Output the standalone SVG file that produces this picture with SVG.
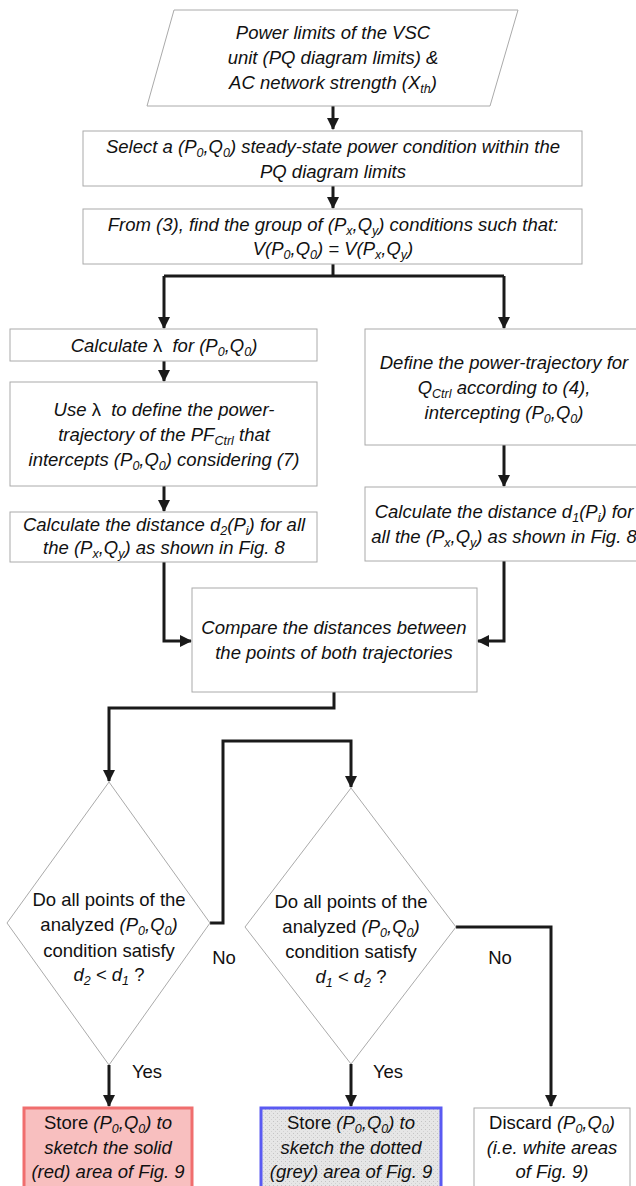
<svg xmlns="http://www.w3.org/2000/svg" width="636" height="1186" viewBox="0 0 636 1186">
<style>
text{font-family:"Liberation Sans",Arial,sans-serif;font-size:18.5px;fill:#111;text-anchor:middle}
.i{font-style:italic}
.n{font-style:normal}
.b{fill:#fff;stroke:#aaa;stroke-width:1}
.c{fill:none;stroke:#1a1a1a;stroke-width:3}
.s{font-size:12.5px}
</style>
<defs>
<marker id="ah" markerUnits="userSpaceOnUse" markerWidth="12" markerHeight="14" refX="11" refY="6" orient="auto">
<path d="M0,0 L12,6 L0,12 Z" fill="#1a1a1a"/>
</marker>
<pattern id="dots" width="4" height="4" patternUnits="userSpaceOnUse">
<rect width="4" height="4" fill="#e6e6e6"/>
<rect x="1" y="1" width="1" height="1" fill="#c4c4c4"/>
<rect x="3" y="3" width="1" height="1" fill="#d2d2d2"/>
</pattern>
</defs>

<g id="connectors">
<line class="c" x1="333" y1="106" x2="333" y2="129" marker-end="url(#ah)"/>
<line class="c" x1="333" y1="186" x2="333" y2="208" marker-end="url(#ah)"/>
<polyline class="c" points="333,264 333,276"/>
<polyline class="c" points="164,276 504,276"/>
<polyline class="c" points="164,276 164,328" marker-end="url(#ah)"/>
<polyline class="c" points="504,276 504,328" marker-end="url(#ah)"/>
<line class="c" x1="164" y1="361" x2="164" y2="381" marker-end="url(#ah)"/>
<line class="c" x1="164" y1="486" x2="164" y2="511" marker-end="url(#ah)"/>
<line class="c" x1="504" y1="445" x2="504" y2="486" marker-end="url(#ah)"/>
<polyline class="c" points="164,562 164,641 191,641" marker-end="url(#ah)"/>
<polyline class="c" points="504,561 504,641 478,641" marker-end="url(#ah)"/>
<polyline class="c" points="334,692 334,708 109,708 109,781" marker-end="url(#ah)"/>
<polyline class="c" points="210,923 223,923 223,741 351,741 351,787" marker-end="url(#ah)"/>
<polyline class="c" points="456,927 551,927 551,1106" marker-end="url(#ah)"/>
<line class="c" x1="109" y1="1065" x2="109" y2="1106" marker-end="url(#ah)"/>
<line class="c" x1="351" y1="1064" x2="351" y2="1106" marker-end="url(#ah)"/>
</g>

<g id="n1">
<polygon class="b" points="174,10 518,10 490,106 147,106"/>
<text class="i" x="333" y="39">Power limits of the VSC</text>
<text class="i" x="333" y="64">unit (PQ diagram limits) &amp;</text>
<text class="i" x="333" y="89">AC network strength (X<tspan class="s" dy="4">th</tspan><tspan dy="-4">)</tspan></text>
</g>

<g id="n2">
<rect class="b" x="83" y="131" width="499" height="55"/>
<text class="i" x="333" y="153">Select a (P<tspan class="s" dy="4">0</tspan><tspan dy="-4">,Q</tspan><tspan class="s" dy="4">0</tspan><tspan dy="-4">) steady-state power condition within the</tspan></text>
<text class="i" x="333" y="178">PQ diagram limits</text>
</g>

<g id="n3">
<rect class="b" x="83" y="209" width="499" height="55"/>
<text class="i" x="333" y="231">From (3), find the group of (P<tspan class="s" dy="4">x</tspan><tspan dy="-4">,Q</tspan><tspan class="s" dy="4">y</tspan><tspan dy="-4">) conditions such that:</tspan></text>
<text class="i" x="333" y="255">V(P<tspan class="s" dy="4">0</tspan><tspan dy="-4">,Q</tspan><tspan class="s" dy="4">0</tspan><tspan dy="-4">) = V(P</tspan><tspan class="s" dy="4">x</tspan><tspan dy="-4">,Q</tspan><tspan class="s" dy="4">y</tspan><tspan dy="-4">)</tspan></text>
</g>

<g id="n4">
<rect class="b" x="10" y="329" width="307" height="32"/>
<text class="i" x="164" y="352">Calculate <tspan class="n">λ</tspan>&#160; for (P<tspan class="s" dy="4">0</tspan><tspan dy="-4">,Q</tspan><tspan class="s" dy="4">0</tspan><tspan dy="-4">)</tspan></text>
</g>

<g id="n5">
<rect class="b" x="10" y="382" width="307" height="104"/>
<text class="i" x="164" y="416">Use <tspan class="n">λ</tspan>&#160; to define the power-</text>
<text class="i" x="164" y="441">trajectory of the PF<tspan class="s" dy="4">Ctrl</tspan><tspan dy="-4"> that</tspan></text>
<text class="i" x="164" y="466">intercepts (P<tspan class="s" dy="4">0</tspan><tspan dy="-4">,Q</tspan><tspan class="s" dy="4">0</tspan><tspan dy="-4">) considering (7)</tspan></text>
</g>

<g id="n6">
<rect class="b" x="10" y="512" width="307" height="50"/>
<text class="i" x="164" y="531">Calculate the distance d<tspan class="s" dy="4">2</tspan><tspan dy="-4">(P</tspan><tspan class="s" dy="4">i</tspan><tspan dy="-4">) for all</tspan></text>
<text class="i" x="164" y="554">the (P<tspan class="s" dy="4">x</tspan><tspan dy="-4">,Q</tspan><tspan class="s" dy="4">y</tspan><tspan dy="-4">) as shown in Fig. 8</tspan></text>
</g>

<g id="n7">
<rect class="b" x="365" y="329" width="278" height="116"/>
<text class="i" x="504" y="369">Define the power-trajectory for</text>
<text class="i" x="504" y="394">Q<tspan class="s" dy="4">Ctrl</tspan><tspan dy="-4"> according to (4),</tspan></text>
<text class="i" x="504" y="419">intercepting (P<tspan class="s" dy="4">0</tspan><tspan dy="-4">,Q</tspan><tspan class="s" dy="4">0</tspan><tspan dy="-4">)</tspan></text>
</g>

<g id="n8">
<rect class="b" x="365" y="487" width="278" height="74"/>
<text class="i" x="504" y="518">Calculate the distance d<tspan class="s" dy="4">1</tspan><tspan dy="-4">(P</tspan><tspan class="s" dy="4">i</tspan><tspan dy="-4">) for</tspan></text>
<text class="i" x="504" y="543">all the (P<tspan class="s" dy="4">x</tspan><tspan dy="-4">,Q</tspan><tspan class="s" dy="4">y</tspan><tspan dy="-4">) as shown in Fig. 8</tspan></text>
</g>

<g id="n9">
<rect class="b" x="192" y="588" width="285" height="104"/>
<text class="i" x="334" y="634">Compare the distances between</text>
<text class="i" x="334" y="659">the points of both trajectories</text>
</g>

<g id="n10">
<polygon class="b" points="109,782 210,923 109,1065 7,923"/>
<text x="109" y="906">Do all points of the</text>
<text x="109" y="931">analyzed <tspan class="i">(P<tspan class="s" dy="4">0</tspan><tspan dy="-4">,Q</tspan><tspan class="s" dy="4">0</tspan><tspan dy="-4">)</tspan></tspan></text>
<text x="109" y="957">condition satisfy</text>
<text x="109" y="981"><tspan class="i">d<tspan class="s" dy="4">2</tspan><tspan dy="-4"> &lt; d</tspan><tspan class="s" dy="4">1</tspan></tspan><tspan dy="-4"> ?</tspan></text>
</g>

<g id="n11">
<polygon class="b" points="351,788 456,927 351,1064 245,927"/>
<text x="351" y="908">Do all points of the</text>
<text x="351" y="933">analyzed <tspan class="i">(P<tspan class="s" dy="4">0</tspan><tspan dy="-4">,Q</tspan><tspan class="s" dy="4">0</tspan><tspan dy="-4">)</tspan></tspan></text>
<text x="351" y="958">condition satisfy</text>
<text x="351" y="983"><tspan class="i">d<tspan class="s" dy="4">1</tspan><tspan dy="-4"> &lt; d</tspan><tspan class="s" dy="4">2</tspan></tspan><tspan dy="-4"> ?</tspan></text>
</g>

<g id="labels">
<text x="224" y="964">No</text>
<text x="500" y="964">No</text>
<text x="147" y="1078">Yes</text>
<text x="388" y="1078">Yes</text>
</g>

<g id="n12">
<rect x="24" y="1108" width="168" height="84" fill="#f8bfbf" stroke="#f06e6e" stroke-width="3"/>
<text x="108" y="1129">Store <tspan class="i">(P<tspan class="s" dy="4">0</tspan><tspan dy="-4">,Q</tspan><tspan class="s" dy="4">0</tspan><tspan dy="-4">) to</tspan></tspan></text>
<text class="i" x="108" y="1154">sketch the solid</text>
<text class="i" x="108" y="1178">(red) area of Fig. 9</text>
</g>

<g id="n13">
<rect x="261" y="1108" width="180" height="84" fill="url(#dots)" stroke="#5a5af2" stroke-width="3"/>
<text x="351" y="1129">Store <tspan class="i">(P<tspan class="s" dy="4">0</tspan><tspan dy="-4">,Q</tspan><tspan class="s" dy="4">0</tspan><tspan dy="-4">) to</tspan></tspan></text>
<text class="i" x="351" y="1154">sketch the dotted</text>
<text class="i" x="351" y="1178">(grey) area of Fig. 9</text>
</g>

<g id="n14">
<rect class="b" x="474" y="1108" width="156" height="84"/>
<text x="552" y="1129">Discard <tspan class="i">(P<tspan class="s" dy="4">0</tspan><tspan dy="-4">,Q</tspan><tspan class="s" dy="4">0</tspan><tspan dy="-4">)</tspan></tspan></text>
<text class="i" x="552" y="1154">(i.e. white areas</text>
<text class="i" x="552" y="1178">of Fig. 9)</text>
</g>
</svg>
